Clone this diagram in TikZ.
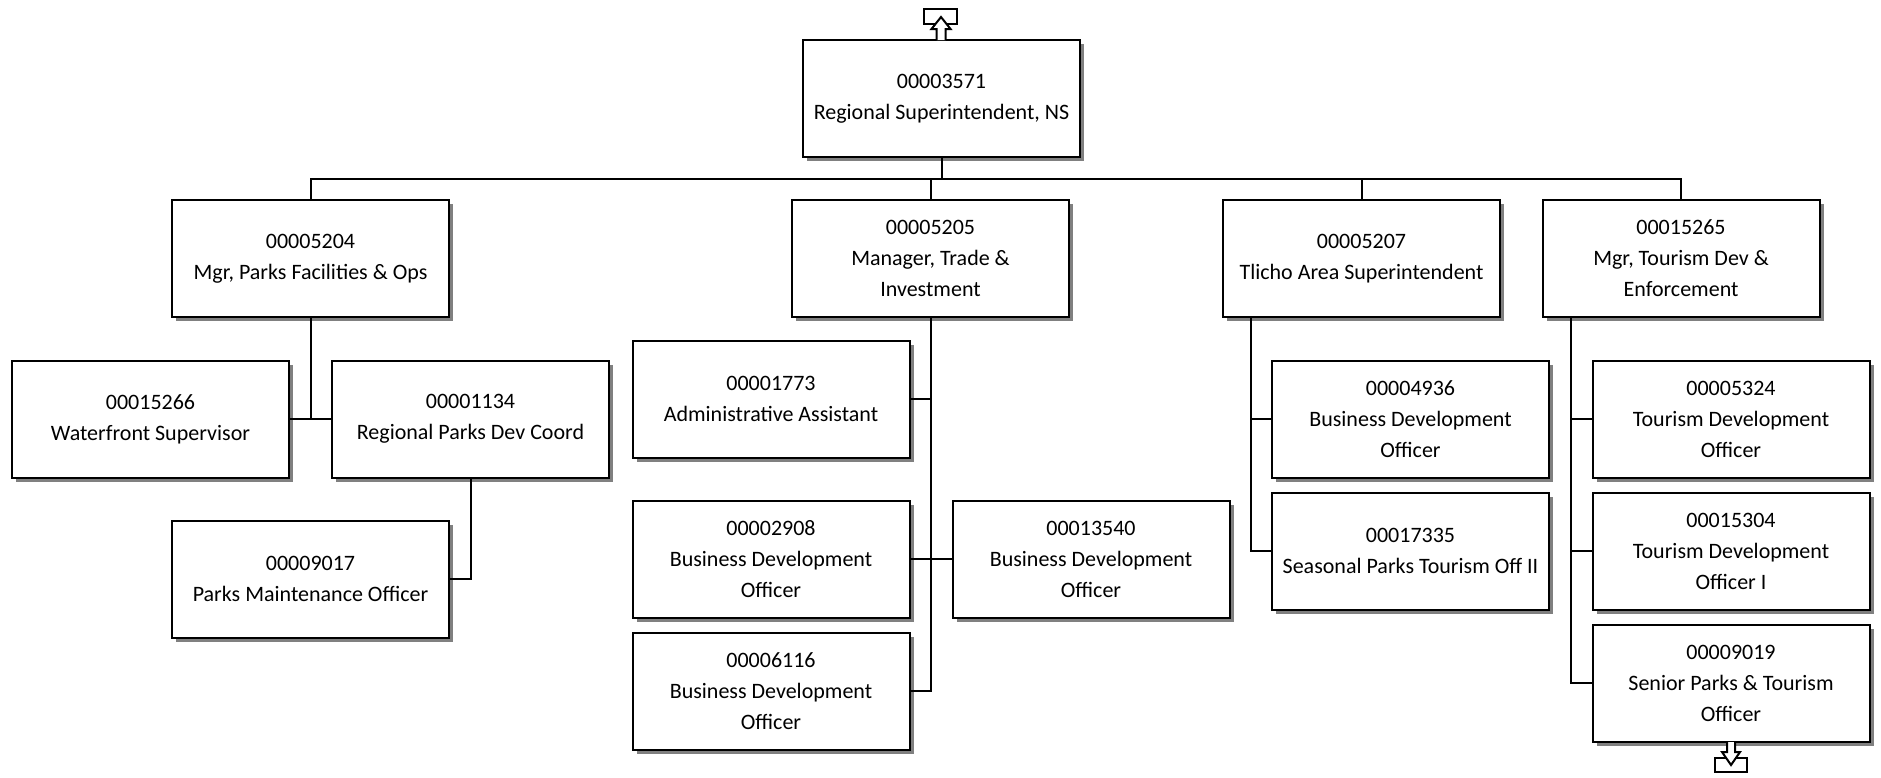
\documentclass[tikz,border=0pt]{standalone}
\usepackage{fontspec}
\setmainfont{Carlito}
\usepackage{tikz}
\usetikzlibrary{shadows}

\begin{document}
\begin{tikzpicture}[x=1pt,y=-1pt,line width=2pt,
  font=\fontsize{22}{31}\selectfont,
  post/.style={draw,fill=white,minimum width=277pt,minimum height=117pt,inner sep=0pt,align=center,
    general shadow={fill=gray,shadow xshift=4pt,shadow yshift=-4pt}}]
\useasboundingbox (0,0) rectangle (1881,777);
\node[post] (top) at (941.5,98.5) {00003571\\Regional Superintendent, NS};
\node[post] (mgrA) at (310.5,258.5) {00005204\\Mgr, Parks Facilities \& Ops};
\node[post] (mgrB) at (930.5,258.5) {00005205\\Manager, Trade \&\\Investment};
\node[post] (mgrC) at (1361.5,258.5) {00005207\\Tlicho Area Superintendent};
\node[post] (mgrD) at (1681,258.5) {00015265\\Mgr, Tourism Dev \&\\Enforcement};
\node[post] (waterfront) at (150.5,419) {00015266\\Waterfront Supervisor};
\node[post] (regpark) at (470.5,419) {00001134\\Regional Parks Dev Coord};
\node[post] (maint) at (310.5,579) {00009017\\Parks Maintenance Officer};
\node[post] (admin) at (771,399) {00001773\\Administrative Assistant};
\node[post] (bdoA) at (771,559) {00002908\\Business Development\\Officer};
\node[post] (bdoB) at (1091,559) {00013540\\Business Development\\Officer};
\node[post] (bdoC) at (771,691) {00006116\\Business Development\\Officer};
\node[post] (bdoD) at (1410.5,419) {00004936\\Business Development\\Officer};
\node[post] (seasonal) at (1410.5,551) {00017335\\Seasonal Parks Tourism Off II};
\node[post] (tdo) at (1731,419) {00005324\\Tourism Development\\Officer};
\node[post] (tdoI) at (1731,551) {00015304\\Tourism Development\\Officer I};
\node[post] (senior) at (1731,683) {00009019\\Senior Parks \& Tourism\\Officer};
\coordinate (bus) at (941.5,179);
\coordinate (spineC) at ([xshift=29pt]mgrC.south west);
\coordinate (spineD) at ([xshift=29pt]mgrD.south west);
\draw (top.south) -- (bus);
\foreach \m in {mgrA,mgrB,mgrC,mgrD}
  \draw (\m.north) |- (bus);
\draw (mgrA.south) |- (waterfront.east);
\draw (mgrA.south) |- (regpark.west);
\draw (regpark.south) |- (maint.east);
\foreach \p in {admin,bdoA,bdoC}
  \draw (mgrB.south) |- (\p.east);
\draw (mgrB.south) |- (bdoB.west);
\foreach \p in {bdoD,seasonal}
  \draw (spineC) |- (\p.west);
\foreach \p in {tdo,tdoI,senior}
  \draw (spineD) |- (\p.west);
\draw (924,9) rectangle (957,24);
\filldraw[fill=white] (936.5,40) -- (936.5,29) -- (931.5,29) -- (941,17) -- (950.5,29) -- (945.5,29) -- (945.5,40);
\draw (1715,758) rectangle (1747,772);
\filldraw[fill=white] (1727,742) -- (1727,752) -- (1722,752) -- (1731,765) -- (1740,752) -- (1735,752) -- (1735,742);
\end{tikzpicture}
\end{document}
